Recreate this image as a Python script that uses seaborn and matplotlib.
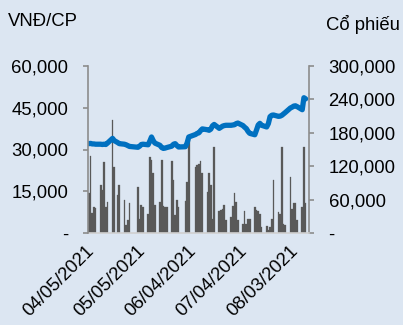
import matplotlib
matplotlib.use("Agg")
import matplotlib.pyplot as plt
import matplotlib.dates as mdates
import matplotlib.ticker as mticker
import matplotlib.transforms as mtransforms
import pandas as pd
import seaborn as sns

# ---------------- data ----------------
dates = [
    "2021-04-05", "2021-04-06", "2021-04-07", "2021-04-08", "2021-04-09",
    "2021-04-12", "2021-04-13", "2021-04-14", "2021-04-15", "2021-04-16",
    "2021-04-19", "2021-04-20", "2021-04-22", "2021-04-23",
    "2021-04-26", "2021-04-27", "2021-04-28", "2021-04-29",
    "2021-05-04", "2021-05-05", "2021-05-06", "2021-05-07",
    "2021-05-10", "2021-05-11", "2021-05-12", "2021-05-13", "2021-05-14",
    "2021-05-17", "2021-05-18", "2021-05-19", "2021-05-20", "2021-05-21",
    "2021-05-24", "2021-05-25", "2021-05-26", "2021-05-27", "2021-05-28",
    "2021-06-01", "2021-06-02", "2021-06-03",
    "2021-06-07", "2021-06-08", "2021-06-09", "2021-06-10", "2021-06-11",
    "2021-06-14", "2021-06-15", "2021-06-16", "2021-06-17", "2021-06-18",
    "2021-06-21", "2021-06-22", "2021-06-23", "2021-06-24", "2021-06-25",
    "2021-06-28", "2021-06-29", "2021-06-30", "2021-07-01", "2021-07-02",
    "2021-07-05", "2021-07-06", "2021-07-07", "2021-07-08", "2021-07-09",
    "2021-07-12", "2021-07-13", "2021-07-14", "2021-07-15", "2021-07-16",
    "2021-07-19", "2021-07-20", "2021-07-21", "2021-07-22", "2021-07-23",
    "2021-07-26", "2021-07-27", "2021-07-28", "2021-07-29", "2021-07-30",
    "2021-08-02", "2021-08-03", "2021-08-04", "2021-08-05", "2021-08-06",
    "2021-08-09", "2021-08-10", "2021-08-11",
]

volume = [
    72000, 138000, 36000, 47000, 45000,
    86000, 77000, 127000, 47000, 56000,
    203000, 119000, 68000, 87000,
    60000, 14000, 23000, 54000,
    82000, 26000, 50000, 47000,
    34000, 137000, 131000, 108000, 50000,
    56000, 132000, 48000, 47000, 47000,
    130000, 95000, 32000, 60000, 47000,
    58000, 92000, 168000,
    118000, 122000, 124000, 130000, 108000,
    74000, 108000, 86000, 25000, 155000,
    40000, 41000, 44000, 50000, 23000,
    29000, 48000, 71000, 56000, 23000,
    16000, 40000, 17000, 26000, 25000,
    47000, 42000, 40000, 35000, 11000,
    13000, 5000, 11000, 26000, 95000,
    38000, 35000, 155000, 16000, 14000,
    100000, 44000, 53000, 54000, 23000,
    46000, 154000, 54000,
]

price = [
    32100, 32200, 32000, 32000, 31900,
    31900, 31800, 31900, 31800, 32300,
    34000, 33200, 32500, 32100,
    31900, 31700, 31400, 31100,
    30800, 31200, 31800, 31900,
    31700, 33000, 34500, 33200, 32300,
    31500, 30700, 30400, 30500, 30700,
    31200, 31900, 32100, 31400, 30900,
    31000, 32300, 34500,
    35400, 35800, 36000, 36800, 37400,
    37100, 36900, 37300, 38500, 39000,
    37600, 38000, 38400, 38600, 38700,
    38700, 38800, 38900, 39300, 39500,
    38600, 38000, 37500, 36500, 35800,
    35300, 37000, 38800, 39400, 38700,
    38100, 39300, 41800, 42300, 42400,
    41900, 42000, 42300, 42800, 43300,
    44900, 45200, 45600, 45700, 45400,
    44300, 48600, 48200,
]

price_ticks = [0, 15000, 30000, 45000, 60000]
volume_ticks = [0, 60000, 120000, 180000, 240000, 300000]
date_ticks = ["2021-04-05", "2021-05-05", "2021-06-04", "2021-07-04", "2021-08-03"]

# ---------------- style ----------------
BG = "#DCE6F2"
BAR = "#595959"
LINE = "#0070C0"
AXIS_GREY = "#8C8C8C"
BOTTOM_GREY = "#D0D0D0"
FS = 13.3

sns.set_theme(style="white")
plt.rcParams["font.family"] = ["Liberation Sans", "DejaVu Sans"]

df = pd.DataFrame({"date": pd.to_datetime(dates), "volume": volume, "price": price})
df["dnum"] = mdates.date2num(df["date"])

fig = plt.figure(figsize=(4.03, 3.25), dpi=100, facecolor=BG)
ax = fig.add_axes([88 / 403, 1 - 233 / 325, 221 / 403, 167 / 325])
ax.set_facecolor(BG)
axp = ax.twinx()
axp.patch.set_visible(False)

sns.barplot(data=df, x="dnum", y="volume", native_scale=True, color=BAR,
            saturation=1, width=1.0, edgecolor=BAR, linewidth=0.2, ax=ax)
sns.lineplot(data=df, x="dnum", y="price", color=LINE, linewidth=3.8,
             solid_capstyle="round", solid_joinstyle="round", ax=axp)

x0 = mdates.date2num(pd.Timestamp("2021-04-04 12:00"))
x1 = mdates.date2num(pd.Timestamp("2021-08-13 00:00"))
ax.set_xlim(x0, x1)
ax.set_ylim(0, 300000)
axp.set_ylim(0, 60000)

def thousands(v, pos):
    return "-" if v == 0 else f"{v:,.0f}"

ax.xaxis.set_major_locator(mticker.FixedLocator(mdates.date2num(pd.to_datetime(date_ticks))))
ax.xaxis.set_major_formatter(mdates.DateFormatter("%m/%d/%Y"))
ax.yaxis.set_major_locator(mticker.FixedLocator(volume_ticks))
ax.yaxis.set_major_formatter(mticker.FuncFormatter(thousands))
axp.yaxis.set_major_locator(mticker.FixedLocator(price_ticks))
axp.yaxis.set_major_formatter(mticker.FuncFormatter(thousands))

ax.yaxis.tick_right()
axp.yaxis.tick_left()

for a in (ax, axp):
    a.set_xlabel("")
    a.set_ylabel("")
    for s in a.spines.values():
        s.set_visible(False)

ax.spines["right"].set_visible(True)
ax.spines["right"].set_color(AXIS_GREY)
ax.spines["right"].set_linewidth(1.2)
ax.spines["bottom"].set_visible(True)
ax.spines["bottom"].set_color(BOTTOM_GREY)
ax.spines["bottom"].set_linewidth(1.2)
axp.spines["left"].set_visible(True)
axp.spines["left"].set_color(AXIS_GREY)
axp.spines["left"].set_linewidth(1.2)

ax.tick_params(axis="y", which="major", direction="out", length=3.6, width=1.2,
               color=AXIS_GREY, pad=10.5, labelsize=FS, labelcolor="black",
               right=True, left=False, labelright=True, labelleft=False)
axp.tick_params(axis="y", which="major", direction="out", length=3.6, width=1.2,
                color=AXIS_GREY, pad=10.5, labelsize=FS, labelcolor="black",
                left=True, right=False, labelleft=True, labelright=False)
ax.tick_params(axis="x", which="major", direction="out", length=3, width=1,
               color=BOTTOM_GREY, pad=4, labelsize=FS, labelcolor="black")
shift = mtransforms.ScaledTranslation(-3 / 100, 0, fig.dpi_scale_trans)
for lbl in ax.get_xticklabels():
    lbl.set_rotation(45)
    lbl.set_ha("right")
    lbl.set_va("top")
    lbl.set_rotation_mode("anchor")
    lbl.set_transform(lbl.get_transform() + shift)

fig.text(8 / 403, 1 - 22 / 325, "VNĐ/CP", fontsize=FS, ha="left", va="center", color="black")
fig.text(326 / 403, 1 - 24 / 325, "Cổ phiếu", fontsize=FS, ha="left", va="center", color="black")

fig.savefig("out.png", dpi=100, facecolor=BG)
